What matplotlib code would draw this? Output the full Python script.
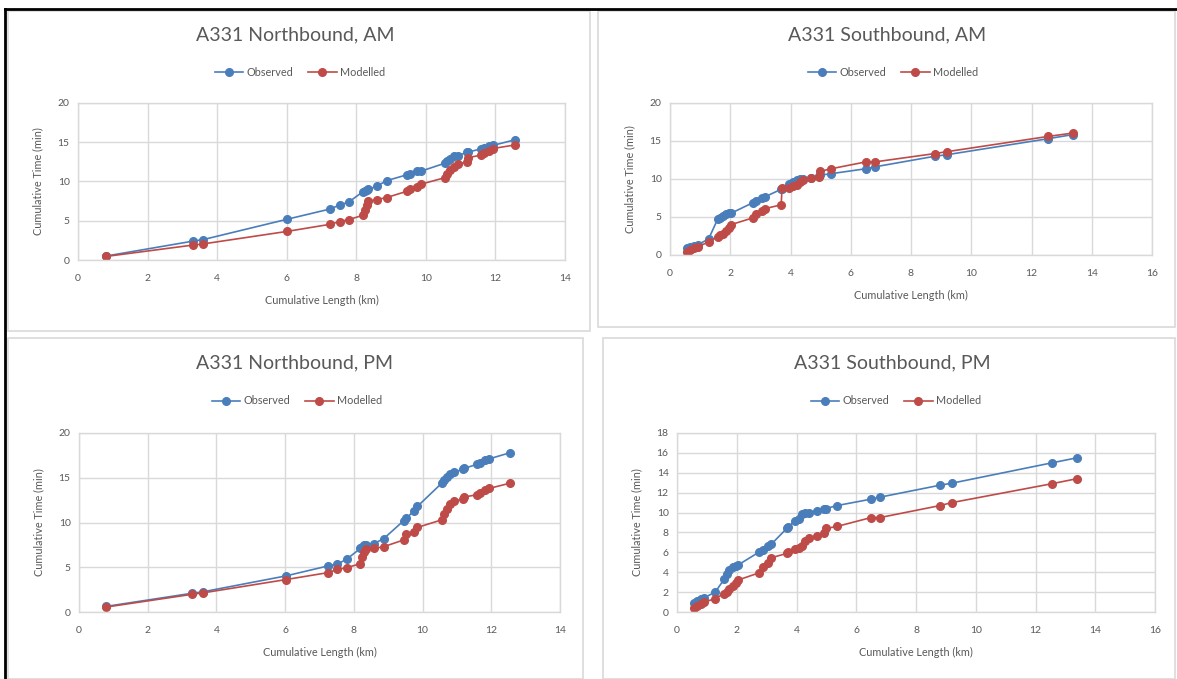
import numpy as np
import matplotlib.pyplot as plt
from matplotlib.patches import Rectangle
from matplotlib.lines import Line2D

plt.rcParams["font.family"] = ["Lato", "DejaVu Sans"]

# cumulative length (km) of each timing point
nb_x = [0.80, 3.30, 3.60, 6.02, 7.25, 7.52, 7.79, 8.19, 8.24, 8.30, 8.35, 8.59, 8.87, 9.45,
        9.53, 9.74, 9.85, 10.56, 10.61, 10.70, 10.81, 10.91, 11.17, 11.22, 11.58, 11.68,
        11.82, 11.93, 12.55]
sb_x = [0.57, 0.68, 0.80, 0.92, 1.28, 1.58, 1.66, 1.75, 1.86, 1.96, 2.03, 2.76, 2.87, 3.06,
        3.15, 3.69, 3.72, 3.94, 4.08, 4.20, 4.30, 4.42, 4.68, 4.93, 4.98, 5.35, 6.50, 6.80,
        8.80, 9.20, 12.55, 13.38]

# cumulative time (min)
nb_am_obs = [0.5, 2.4, 2.6, 5.2, 6.5, 7.0, 7.4, 8.7, 8.8, 8.95, 9.0, 9.4, 10.1, 10.85,
             10.95, 11.35, 11.3, 12.35, 12.6, 12.9, 13.2, 13.3, 13.7, 13.75, 14.15, 14.3,
             14.5, 14.6, 15.3]
nb_am_mod = [0.45, 1.9, 2.05, 3.65, 4.55, 4.9, 5.15, 5.7, 6.4, 7.0, 7.5, 7.7, 7.95, 8.75,
             9.0, 9.3, 9.65, 10.5, 11.0, 11.5, 11.9, 12.2, 12.5, 13.05, 13.35, 13.65,
             13.9, 14.2, 14.65]
nb_pm_obs = [0.63, 2.1, 2.25, 4.03, 5.15, 5.35, 5.9, 7.1, 7.3, 7.45, 7.5, 7.65, 8.2, 10.2,
             10.45, 11.3, 11.8, 14.4, 14.7, 15.1, 15.45, 15.6, 15.95, 16.05, 16.5, 16.7,
             17.0, 17.1, 17.8]
nb_pm_mod = [0.56, 1.98, 2.13, 3.62, 4.4, 4.75, 4.95, 5.4, 6.15, 6.7, 7.0, 7.1, 7.3, 8.05,
             8.7, 8.95, 9.45, 10.3, 10.9, 11.5, 12.05, 12.4, 12.6, 12.85, 13.1, 13.35,
             13.65, 13.8, 14.4]
sb_am_obs = [0.9, 1.1, 1.2, 1.35, 2.1, 4.7, 4.9, 5.1, 5.4, 5.5, 5.5, 6.9, 7.1, 7.5, 7.65,
             8.65, 8.75, 9.4, 9.65, 9.9, 10.05, 10.05, 10.1, 10.4, 10.5, 10.7, 11.35, 11.6,
             13.0, 13.2, 15.3, 15.85]
sb_am_mod = [0.45, 0.65, 0.9, 1.1, 1.7, 2.4, 2.6, 2.8, 3.1, 3.5, 4.0, 4.9, 5.35, 5.8, 6.1,
             6.6, 8.8, 8.85, 9.05, 9.25, 9.65, 9.9, 10.1, 10.3, 11.0, 11.35, 12.25, 12.25,
             13.35, 13.6, 15.6, 16.05]
sb_pm_obs = [0.9, 1.1, 1.3, 1.45, 2.0, 3.3, 3.85, 4.25, 4.5, 4.65, 4.7, 6.05, 6.2, 6.6, 6.8,
             8.45, 8.5, 9.2, 9.4, 9.85, 10.0, 10.0, 10.2, 10.35, 10.4, 10.7, 11.35, 11.55,
             12.75, 12.95, 15.0, 15.5]
sb_pm_mod = [0.45, 0.6, 0.85, 1.0, 1.35, 1.85, 2.05, 2.3, 2.6, 2.9, 3.2, 3.95, 4.55, 4.9,
             5.45, 5.9, 6.05, 6.35, 6.45, 6.6, 7.1, 7.4, 7.65, 7.9, 8.4, 8.6, 9.5, 9.5,
             10.7, 11.0, 12.9, 13.4]

titles = ["A331 Northbound, AM", "A331 Southbound, AM",
          "A331 Northbound, PM", "A331 Southbound, PM"]

BLUE = "#4A7EBB"
RED = "#BE4B48"
GREY = "#595959"
GRID = "#D9D9D9"

W, H = 1177, 679
fig = plt.figure(figsize=(W / 100, H / 100), dpi=100)


def px(l, t, r, b):
    return [l / W, 1 - b / H, (r - l) / W, (b - t) / H]


# chart boxes (pixels: left, top, right, bottom)
boxes = [(8, 11, 590, 331), (598, 11, 1175, 327), (8, 338, 583, 679), (603, 338, 1175, 679)]
for l, t, r, b in boxes:
    fig.patches.append(Rectangle((l / W, 1 - b / H), (r - l) / W, (b - t) / H,
                                 transform=fig.transFigure, fill=False,
                                 edgecolor=GRID, linewidth=1.2))
fig.add_artist(Line2D([5 / W, 1], [1 - 9 / H, 1 - 9 / H], color="k", linewidth=2))
fig.add_artist(Line2D([5 / W, 5 / W], [0, 1 - 9 / H], color="k", linewidth=2))

panels = [
    dict(rect=(78, 103, 565, 260), x=nb_x, obs=nb_am_obs, mod=nb_am_mod, xmax=14, ymax=20, ystep=5,
         title=(295, 35), leg=(300, 72)),
    dict(rect=(670, 103, 1152, 255), x=sb_x, obs=sb_am_obs, mod=sb_am_mod, xmax=16, ymax=20, ystep=5,
         title=(887, 35), leg=(893, 72)),
    dict(rect=(79, 433, 560, 612), x=nb_x, obs=nb_pm_obs, mod=nb_pm_mod, xmax=14, ymax=20, ystep=5,
         title=(294, 363), leg=(297, 401)),
    dict(rect=(677, 433, 1155, 612), x=sb_x, obs=sb_pm_obs, mod=sb_pm_mod, xmax=16, ymax=18, ystep=2,
         title=(892, 363), leg=(896, 401)),
]

for p, title in zip(panels, titles):
    ax = fig.add_axes(px(*p["rect"]))
    ax.plot(p["x"], p["obs"], color=BLUE, marker="o", markersize=5.5, linewidth=1.2, label="Observed")
    ax.plot(p["x"], p["mod"], color=RED, marker="o", markersize=5.5, linewidth=1.2, label="Modelled")
    ax.set_xlim(0, p["xmax"])
    ax.set_ylim(0, p["ymax"])
    ax.set_xticks(np.arange(0, p["xmax"] + 1, 2))
    ax.set_yticks(np.arange(0, p["ymax"] + 1, p["ystep"]))
    ax.grid(True, color=GRID, linewidth=1)
    ax.set_axisbelow(True)
    for s in ax.spines.values():
        s.set_color(GRID)
        s.set_linewidth(1)
    ax.tick_params(length=0, labelsize=7.5, labelcolor=GREY)
    ax.tick_params(axis="x", pad=10)
    ax.tick_params(axis="y", pad=6)
    ax.set_xlabel("Cumulative Length (km)", fontsize=7.8, color=GREY, labelpad=9)
    ax.set_ylabel("Cumulative Time (min)", fontsize=7.8, color=GREY, labelpad=10)

    tx, ty = p["title"]
    fig.text(tx / W, 1 - ty / H, title, ha="center", va="center", fontsize=14, color=GREY)
    lx, ly = p["leg"]
    fig.legend(*ax.get_legend_handles_labels(), loc="center", bbox_to_anchor=(lx / W, 1 - ly / H),
               ncol=2, frameon=False, fontsize=7.8, labelcolor=GREY, handlelength=2.6,
               handletextpad=0.3, columnspacing=1.4)

fig.savefig("out.png", dpi=100)
